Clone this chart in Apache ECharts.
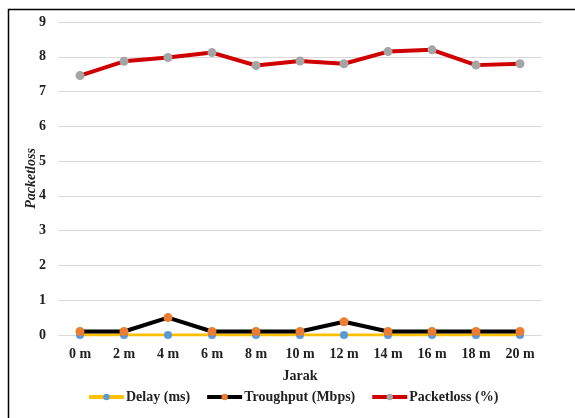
<!DOCTYPE html>
<html>
<head>
<meta charset="utf-8">
<script src="https://cdn.jsdelivr.net/npm/echarts@6/dist/echarts.min.js"></script>
<style>
  html, body { margin: 0; padding: 0; background: #fff; }
  #chart { width: 575px; height: 418px; }
</style>
</head>
<body>
<div id="chart"></div>
<script>
// Distance categories and measured values
const jarak = ['0 m', '2 m', '4 m', '6 m', '8 m', '10 m', '12 m', '14 m', '16 m', '18 m', '20 m'];
const delayMs = [0, 0, 0, 0, 0, 0, 0, 0, 0, 0, 0];
const throughputMbps = [0.1, 0.1, 0.5, 0.1, 0.1, 0.1, 0.38, 0.1, 0.1, 0.1, 0.1];
const packetlossPct = [7.46, 7.87, 7.98, 8.12, 7.75, 7.88, 7.8, 8.15, 8.2, 7.76, 7.8];
const yTicks = [0, 1, 2, 3, 4, 5, 6, 7, 8, 9];

const serif = '"Liberation Serif", "Times New Roman", serif';
const chart = echarts.init(document.getElementById('chart'));

chart.setOption({
  backgroundColor: '#ffffff',
  animation: false,
  graphic: [{
    type: 'rect',
    left: 6, top: 7,
    shape: { width: 620, height: 460 },
    style: { fill: 'none', stroke: '#000', lineWidth: 1.5 },
    silent: true
  }],
  grid: { left: 58, right: 33, top: 22, bottom: 83 },
  xAxis: {
    type: 'category',
    data: jarak,
    boundaryGap: true,
    name: 'Jarak',
    nameLocation: 'middle',
    nameGap: 34,
    nameTextStyle: { fontFamily: serif, fontWeight: 'bold', fontSize: 14, color: '#222' },
    axisLine: { show: false },
    axisTick: { show: false },
    axisLabel: { fontFamily: serif, fontWeight: 'bold', fontSize: 14, color: '#222', margin: 12 }
  },
  yAxis: {
    type: 'value',
    min: yTicks[0],
    max: yTicks[yTicks.length - 1],
    interval: 1,
    name: 'Packetloss',
    nameLocation: 'middle',
    nameGap: 20,
    nameMoveOverlap: false,
    nameTextStyle: { fontFamily: serif, fontWeight: 'bold', fontStyle: 'italic', fontSize: 14, color: '#222' },
    axisLine: { show: false },
    axisTick: { show: false },
    axisLabel: { fontFamily: serif, fontWeight: 'bold', fontSize: 14, color: '#222', margin: 12 },
    splitLine: { lineStyle: { color: '#d9d9d9', width: 1.2 } }
  },
  legend: {
    bottom: 9,
    left: 82,
    itemGap: 15,
    itemWidth: 35,
    itemHeight: 8,
    lineStyle: { width: 4 },
    textStyle: { fontFamily: serif, fontWeight: 'bold', fontSize: 14, color: '#222', padding: [0, 0, 0, -3] },
    data: ['Delay (ms)', 'Troughput (Mbps)', 'Packetloss (%)']
  },
  series: [
    {
      name: 'Delay (ms)',
      type: 'line',
      data: delayMs,
      symbol: 'circle',
      symbolSize: 8,
      z: 2,
      lineStyle: { color: '#ffc000', width: 3 },
      itemStyle: { color: '#5b9bd5' }
    },
    {
      name: 'Troughput (Mbps)',
      type: 'line',
      data: throughputMbps,
      symbol: 'circle',
      symbolSize: 9,
      z: 3,
      lineStyle: { color: '#000000', width: 4 },
      itemStyle: { color: '#ed7d31' }
    },
    {
      name: 'Packetloss (%)',
      type: 'line',
      data: packetlossPct,
      symbol: 'circle',
      symbolSize: 9,
      z: 4,
      lineStyle: { color: '#d00000', width: 4 },
      itemStyle: { color: '#a5a5a5' }
    }
  ]
});
</script>
</body>
</html>
